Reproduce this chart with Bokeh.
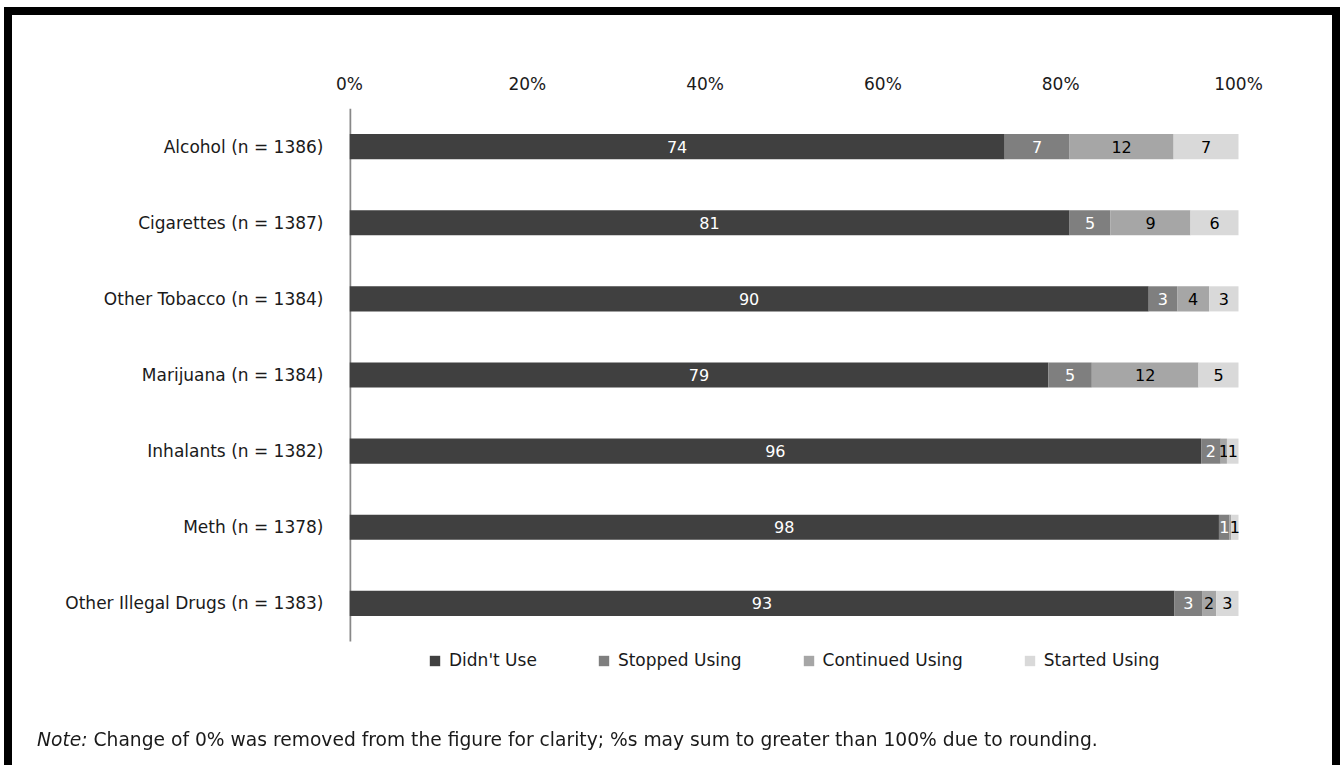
from bokeh.plotting import figure
from bokeh.layouts import column
from bokeh.models import (ColumnDataSource, Range1d, FixedTicker, Legend, LegendItem, Div)
from bokeh.embed import file_html
from bokeh.resources import INLINE
from bokeh.core.properties import value

categories = ["Alcohol (n = 1386)", "Cigarettes (n = 1387)", "Other Tobacco (n = 1384)",
              "Marijuana (n = 1384)", "Inhalants (n = 1382)", "Meth (n = 1378)",
              "Other Illegal Drugs (n = 1383)"]
series = ["Didn't Use", "Stopped Using", "Continued Using", "Started Using"]
didnt_use = [73.7, 81.0, 89.9, 78.6, 95.8, 97.8, 92.8]
stopped = [7.3, 4.6, 3.2, 4.9, 2.2, 1.2, 3.1]
continued = [11.7, 9.0, 3.6, 12.0, 0.7, 0.2, 1.6]
started = [7.3, 5.4, 3.3, 4.5, 1.3, 0.8, 2.5]
labels_didnt = ["74", "81", "90", "79", "96", "98", "93"]
labels_stopped = ["7", "5", "3", "5", "2", "1", "3"]
labels_continued = ["12", "9", "4", "12", "1", "", "2"]
labels_started = ["7", "6", "3", "5", "1", "1", "3"]
ticks = [0, 20, 40, 60, 80, 100]
tick_labels = ["0%", "20%", "40%", "60%", "80%", "100%"]
note_lead = "Note:"
note_text = "Change of 0% was removed from the figure for clarity; %s may sum to greater than 100% due to rounding."

colors = ["#404040", "#7f7f7f", "#a6a6a6", "#d9d9d9"]
label_colors = ["white", "white", "black", "black"]
FONT = "DejaVu Sans"
TXT = "#1a1a1a"

W, H = 1341, 765
FL, FR, FT, FB = 349, 1238, 108, 641      # plot-area edges in pixels
band = (FB - FT) / len(categories)
x_end = 100 + (W - FR) * 100 / (FR - FL)
y_bottom = -0.5 + (H - FT) / band

p = figure(width=W, height=H, output_backend="svg", toolbar_location=None,
           x_range=Range1d(0, x_end), y_range=Range1d(y_bottom, -0.5),
           x_axis_location="above",
           min_border_left=FL, min_border_right=0,
           min_border_top=FT, min_border_bottom=0)
p.outline_line_color = None
p.xgrid.visible = False
p.ygrid.visible = False

xa = p.xaxis[0]
xa.ticker = FixedTicker(ticks=ticks)
xa.major_label_overrides = {t: l for t, l in zip(ticks, tick_labels)}
xa.axis_line_color = None
xa.major_tick_line_color = None
xa.minor_tick_line_color = None
xa.major_label_standoff = 9
xa.major_label_text_font = FONT
xa.major_label_text_font_size = "17px"
xa.major_label_text_color = TXT

ypos = list(range(len(categories)))
ya = p.yaxis[0]
ya.ticker = FixedTicker(ticks=ypos)
ya.major_label_overrides = {i: c for i, c in zip(ypos, categories)}
ya.axis_line_color = None
ya.major_tick_line_color = None
ya.minor_tick_line_color = None
ya.major_label_standoff = 20
ya.major_label_text_font = FONT
ya.major_label_text_font_size = "17px"
ya.major_label_text_color = TXT

# category axis line, spanning only the category bands
p.segment(x0=[0], y0=[-0.5], x1=[0], y1=[len(categories) - 0.5],
          line_color="#888888", line_width=3.5)

vals = [didnt_use, stopped, continued, started]
labs = [labels_didnt, labels_stopped, labels_continued, labels_started]
left = [0.0] * len(categories)
renderers = []
for i, name in enumerate(series):
    right = [l + v for l, v in zip(left, vals[i])]
    mid = [(l + r) / 2 for l, r in zip(left, right)]
    src = ColumnDataSource(dict(y=ypos, left=left, right=right, mid=mid, lab=labs[i]))
    r = p.hbar(y="y", left="left", right="right", height=0.33, source=src,
               fill_color=colors[i], line_color=None)
    renderers.append(r)
    p.text(x="mid", y="y", text="lab", source=src, text_align="center",
           text_baseline="middle", text_color=label_colors[i],
           text_font=value(FONT), text_font_size="16px")
    left = right

legend = Legend(items=[LegendItem(label=s, renderers=[r]) for s, r in zip(series, renderers)],
                orientation="horizontal", location=(79, 95),
                border_line_color=None, background_fill_alpha=0,
                glyph_width=13, glyph_height=13, label_standoff=8, spacing=60,
                padding=0, margin=0, label_height=20,
                label_text_font=FONT, label_text_font_size="17px",
                label_text_color=TXT)
p.add_layout(legend, "center")

# note and the black document frame (its bottom edge lies below the window)
overlay = Div(width=10, height=1, text=(
    '<div style="position:fixed; left:4px; top:7px; width:1336px; height:800px;'
    ' box-sizing:border-box; border:8px solid #000; border-bottom:none;'
    ' z-index:10; pointer-events:none;"></div>'
    '<div style="position:fixed; left:37px; top:729px; line-height:22px; white-space:nowrap;'
    f' font-family:\'{FONT}\'; font-size:18.7px; color:{TXT}; z-index:11;">'
    f'<i>{note_lead}</i> {note_text}</div>'))

page = column(p, overlay, spacing=0)
open("out.html", "w").write(file_html(page, INLINE))
